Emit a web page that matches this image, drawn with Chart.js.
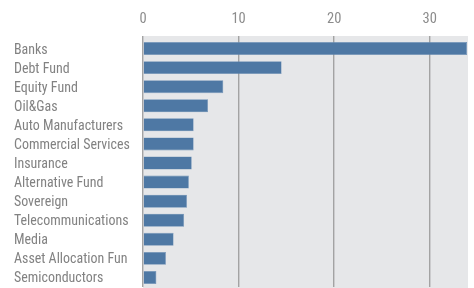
<!DOCTYPE html>
<html>
<head>
<meta charset="utf-8">
<script src="https://cdn.jsdelivr.net/npm/chart.js@4"></script>
<style>
  html, body { margin: 0; padding: 0; background: #fff; overflow: hidden; }
  #wrap { width: 474px; height: 288px; }
</style>
</head>
<body>
<div id="wrap"><canvas id="chart"></canvas></div>
<script>
// data
const categories = ['Banks', 'Debt Fund', 'Equity Fund', 'Oil&Gas', 'Auto Manufacturers',
  'Commercial Services', 'Insurance', 'Alternative Fund', 'Sovereign', 'Telecommunications',
  'Media', 'Asset Allocation Fun', 'Semiconductors'];
const values = [33.9, 14.5, 8.4, 6.8, 5.3, 5.3, 5.1, 4.8, 4.6, 4.3, 3.2, 2.4, 1.4];
const xTicks = [0, 10, 20, 30];

// the original uses a condensed, regular-weight face; take the first one installed
function pickFont() {
  const c = document.createElement('canvas').getContext('2d');
  const sample = 'Commercial Services';
  const w = f => { c.font = '14px ' + f; return c.measureText(sample).width; };
  const base1 = w('monospace');
  const cands = ['Liberation Sans Narrow', 'Roboto Condensed', 'Noto Sans Condensed',
    'DejaVu Sans Condensed', 'Liberation Sans'];
  let best = null;
  for (const f of cands) {
    const a = w('"' + f + '", monospace'), b = w('"' + f + '", serif');
    if (a === b && a !== base1) { best = { f: f, w: a }; break; }
  }
  if (!best) best = { f: 'sans-serif', w: w('sans-serif') };
  const size = Math.max(12, Math.min(14.5, 14 * 116 / best.w));
  return { family: '"' + best.f + '", sans-serif', size: size };
}
const F = pickFont();

// grey plot background, starting a bit above the first bar
const plotBg = {
  id: 'plotBg',
  beforeDraw(chart) {
    const a = chart.chartArea;
    const ctx = chart.ctx;
    ctx.save();
    ctx.fillStyle = '#e6e7e9';
    ctx.fillRect(a.left, a.top - 3, a.right - a.left, chart.height - a.top + 3);
    ctx.restore();
  }
};

new Chart(document.getElementById('chart'), {
  type: 'bar',
  data: {
    labels: categories,
    datasets: [{
      data: values,
      backgroundColor: '#4e78a4',
      borderColor: '#6f92b8',
      borderWidth: 0.6,
      barPercentage: 0.68,
      categoryPercentage: 1
    }]
  },
  options: {
    indexAxis: 'y',
    responsive: true,
    maintainAspectRatio: false,
    animation: false,
    layout: { padding: { left: 14, right: 6, top: 0, bottom: 1 } },
    plugins: { legend: { display: false }, tooltip: { enabled: false } },
    scales: {
      x: {
        position: 'top',
        min: 0,
        max: 34,
        afterFit: s => { s.height = 39; s.paddingLeft = 0; s.paddingRight = 0; },
        afterBuildTicks: s => { s.ticks = xTicks.map(v => ({ value: v })); },
        border: { display: false },
        grid: { color: '#a3a3a3', lineWidth: 1.4, tickLength: 3, drawTicks: true },
        ticks: { color: '#8c8c8c', padding: 8, font: { family: F.family, size: 14.5, weight: 'normal' } }
      },
      y: {
        afterFit: s => { s.width = 129; s.paddingTop = 0; s.paddingBottom = 0; },
        border: { display: false },
        grid: { display: false },
        ticks: { color: '#828282', crossAlign: 'far', padding: 0, autoSkip: false, labelOffset: 1.5,
          font: { family: F.family, size: F.size, weight: 'normal' } }
      }
    }
  },
  plugins: [plotBg]
});
</script>
</body>
</html>
